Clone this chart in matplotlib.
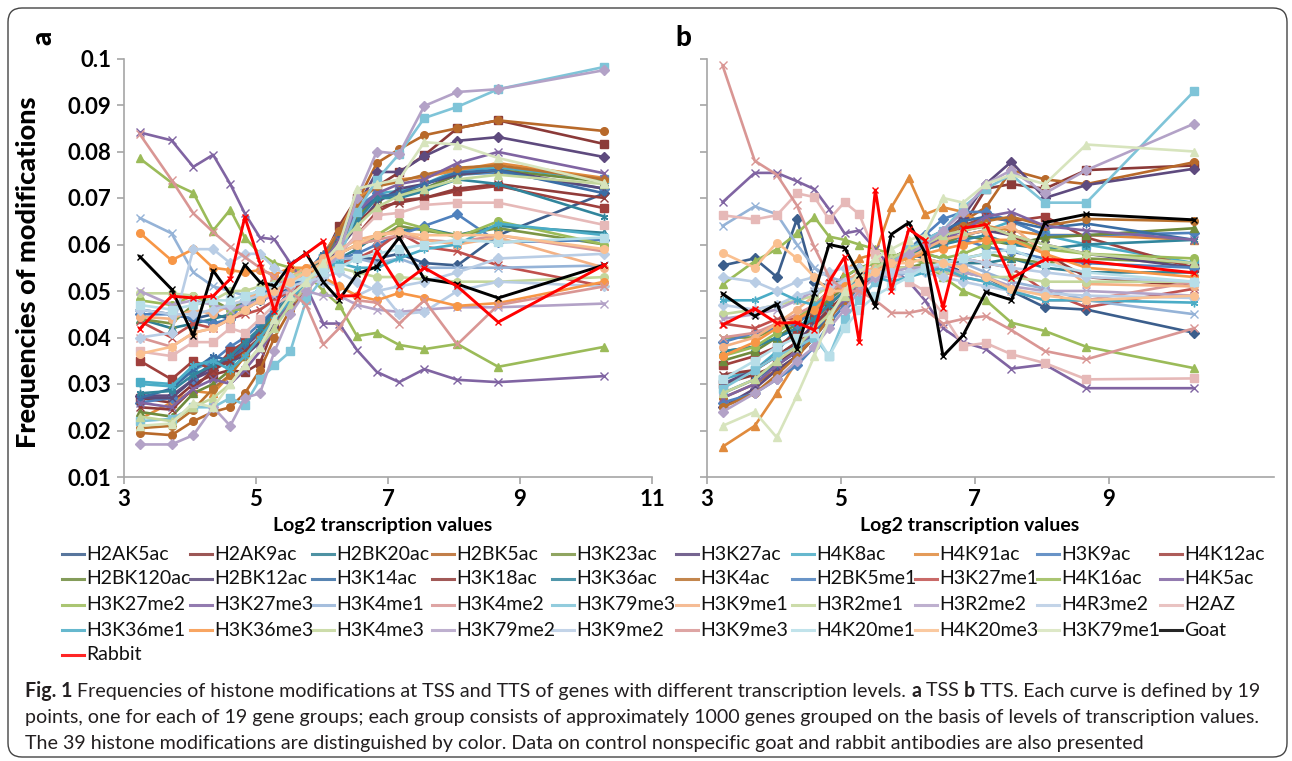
import numpy as np
import matplotlib
matplotlib.use("Agg")
import matplotlib.pyplot as plt
from matplotlib.lines import Line2D
from matplotlib.patches import FancyBboxPatch
import matplotlib.transforms as mtransforms

plt.rcParams['font.family'] = ['Lato', 'DejaVu Sans']

# x positions of the 19 gene groups (log2 transcription)
x_groups = [3.24, 3.72, 4.05, 4.35, 4.61, 4.83, 5.06, 5.28, 5.52, 5.76,
            6.02, 6.26, 6.53, 6.83, 7.17, 7.55, 8.05, 8.67, 10.28]

names = ["H2AK5ac", "H2AK9ac", "H2BK20ac", "H2BK5ac", "H3K23ac", "H3K27ac", "H4K8ac", "H4K91ac", "H3K9ac", "H4K12ac",
         "H2BK120ac", "H2BK12ac", "H3K14ac", "H3K18ac", "H3K36ac", "H3K4ac", "H2BK5me1", "H3K27me1", "H4K16ac", "H4K5ac",
         "H3K27me2", "H3K27me3", "H3K4me1", "H3K4me2", "H3K79me3", "H3K9me1", "H3R2me1", "H3R2me2", "H4R3me2", "H2AZ",
         "H3K36me1", "H3K36me3", "H3K4me3", "H3K79me2", "H3K9me2", "H3K9me3", "H4K20me1", "H4K20me3", "H3K79me1", "Goat",
         "Rabbit"]

# frequencies x 1000, TSS (panel a), same order as names
tss = [
    [46, 45, 44, 45, 44, 46, 48, 49, 51, 53, 55, 56, 57, 57, 58, 56, 55.5, 62, 71],
    [27, 26, 30, 32, 33, 32.5, 34.5, 42.5, 47, 51, 57, 64, 70, 72.5, 75.5, 79.2, 85, 86.7, 81.6],
    [44, 42, 43, 44, 45, 47, 49, 51, 53, 54, 56, 57, 59, 62, 63, 63.5, 62, 64, 62.5],
    [19.5, 19, 22, 24, 25, 28, 33, 40, 46, 50, 55, 62, 69, 77.5, 80.5, 83.5, 85, 86.7, 84.4],
    [44, 43, 47, 48, 46, 48, 50, 51, 52, 54, 56, 58, 60, 61, 64, 63, 62, 63.5, 60],
    [27.5, 27.5, 31, 33, 36, 38, 41, 45, 49, 53, 57, 62, 68, 75.6, 75.6, 79, 82.3, 83.1, 78.8],
    [30.5, 30, 33, 35, 34, 37, 40, 44, 48, 52, 57, 61, 66, 71, 71.5, 73, 76, 76.5, 74],
    [22.5, 26, 28.5, 28, 32, 36, 40, 44, 48, 53, 58, 63, 70, 72.5, 74, 74.5, 76, 77.5, 74.3],
    [26, 27, 31, 35, 38, 40, 43, 46, 50, 53, 57, 62, 68, 71, 70, 72, 75, 75.5, 72],
    [35, 31, 35, 33, 37, 39, 41, 44, 48, 51, 55, 58, 62, 67, 69.5, 70, 71.5, 72.6, 67.8],
    [24, 23, 28, 30, 33, 36, 40, 45, 49, 53, 57, 61, 66, 70, 71, 72, 75, 76, 73.5],
    [27, 27, 31, 34, 35, 36, 39, 43, 47, 51, 55, 59, 64, 69, 72, 73, 75, 76, 72],
    [27, 29, 33, 36, 35, 38, 42, 46, 50, 54, 58, 62, 67, 70, 71, 73, 75.5, 76, 71],
    [25, 24.5, 29, 33, 35, 37, 40, 44, 48, 52, 56, 60, 65, 68, 69, 70, 72, 73, 70],
    [28, 28.5, 32, 34, 36, 39, 42, 45, 49, 53, 57, 60, 65, 70, 70, 71.5, 74, 73, 66],
    [20.5, 21, 24.5, 29, 32, 36, 40, 44, 48, 52, 57, 63, 69, 72.5, 73.5, 75, 76.5, 77, 74],
    [45, 45, 44, 43, 44, 48, 50, 51, 53, 52, 55, 57, 58, 60, 62, 64, 66.5, 60.5, 61],
    [43.5, 40, 43, 42, 44, 45, 46, 48, 50, 52, 54, 56, 57, 59, 62.5, 59.5, 58.5, 55.5, 51],
    [48, 47, 49, 47, 46, 46, 48, 50, 52, 54, 56, 58, 60, 62, 65, 63.5, 61.5, 65, 60],
    [26, 25, 29, 31, 30, 33, 37, 42, 48, 52, 56, 61, 67, 71, 73, 74, 77.5, 79.9, 75.3],
    [78.5, 73.3, 71.1, 63, 67.5, 61.5, 58, 56, 55, 54, 50, 47, 40.3, 41, 38.4, 37.5, 38.6, 33.7, 38],
    [84.1, 82.4, 76.7, 79.3, 73, 66.7, 61.5, 61.1, 56, 51, 43, 43, 37.3, 32.6, 30.4, 33.2, 30.9, 30.4, 31.7],
    [65.7, 62.4, 54, 51, 50, 49, 50, 52, 52, 53, 55, 57, 57, 56, 57, 55, 55, 55, 55.5],
    [40, 38, 41, 42, 44, 46, 48, 50, 52, 54, 56, 58, 60, 61, 62, 61, 60.5, 62, 58.5],
    [22, 22.5, 25, 25, 27, 25.5, 31, 34, 37, 48, 53, 57, 67, 73.9, 79.5, 87.2, 89.6, 93.4, 98.2],
    [44.5, 44, 46, 45, 47, 48, 50, 52, 53, 55, 57, 59, 61, 62, 63, 61, 60, 61.5, 55],
    [49.5, 49.5, 49, 48, 50, 50, 51, 52, 53, 54, 55, 55, 54, 53, 53, 52.5, 52, 52, 53],
    [50, 47, 48, 47, 46, 47, 48, 49, 50, 50, 49, 49, 47, 46, 45.5, 46, 46.5, 46.5, 47.3],
    [46, 45, 45, 46, 47, 48, 49, 50, 51, 52, 52, 51, 49, 51, 45, 45.5, 50, 52, 51],
    [37, 36, 39, 39, 42, 41, 44, 47, 49, 51, 55, 58, 62, 66.3, 66.8, 68.5, 69, 69, 64.2],
    [30, 29.5, 34, 35, 33, 36, 40, 44, 48, 52, 55, 56, 55, 55, 57, 59, 60, 64.5, 62],
    [62.5, 56.6, 59, 55, 54.5, 54, 54.5, 53.5, 55, 55, 53, 51, 49, 48, 49.6, 48.5, 46.8, 47.4, 52],
    [23, 22, 25, 27, 30, 34, 38, 42, 47, 51, 56, 60, 64, 68, 70.5, 72, 74, 75, 73],
    [17, 17, 19, 25, 21, 27, 28, 37, 45, 50, 54, 58, 70, 80, 79.5, 89.8, 92.8, 93.4, 97.5],
    [40, 41, 59, 59, 56, 58, 58, 55, 53, 52, 53, 54, 52, 50, 51, 52, 54, 57, 58],
    [83.7, 73.9, 66.7, 62.7, 59.5, 57.3, 55, 53, 50, 47, 38.5, 42, 48, 47.5, 43, 48, 38.5, 47, 51],
    [47, 46, 47, 48, 48, 49, 50, 51, 52, 53, 54, 55, 57, 58, 59, 60, 61, 60.5, 61.5],
    [36.5, 38, 41, 42, 44, 46, 48, 50, 52, 54, 56, 58, 60, 62, 62.5, 62, 62, 62, 59],
    [21, 21.5, 26, 25, 30, 34, 38, 44, 49, 52, 56, 60, 72, 73, 74, 82, 81.5, 78.6, 73.2],
    [57.4, 50.4, 40.4, 54.4, 49.3, 55.6, 51.9, 51.1, 55.6, 58.1, 51.9, 48.1, 53.7, 55.2, 61.5, 52.6, 51.5, 48.5, 55.6],
    [41.9, 48.9, 48.5, 48.9, 52.6, 65.9, 56, 45.6, 55.6, 58, 60.7, 48.9, 49, 58.5, 51, 55, 51, 43.3, 55.6],
]

# frequencies x 1000, TTS (panel b)
tts = [
    [55.5, 57, 53, 65.5, 52, 51, 53, 55, 56, 57, 58, 57, 56, 54, 53, 50, 46.5, 46, 41],
    [30, 32, 34, 38, 42, 45, 48, 51, 53, 56, 58, 60, 62, 64, 72, 73, 72, 76, 77],
    [37, 38, 40, 42, 45, 48, 51, 53, 55, 56, 57, 58, 57, 56, 56, 57, 55, 54, 54],
    [27, 30, 33, 36, 40, 45, 49, 52, 55, 57, 59, 61, 62, 65, 68, 76, 74, 73, 77.7],
    [40, 40, 42, 44, 47, 50, 52, 53, 54, 55, 55, 56, 56, 57, 58, 57, 56, 57, 56],
    [25, 29, 33, 36, 40, 44, 48, 51, 54, 57, 58, 60, 62, 66, 73, 77.8, 70, 72.8, 76.3],
    [31, 33, 37, 42, 45, 47, 50, 53, 55, 57, 58, 59, 60, 62, 63, 65, 62, 60, 56],
    [16.5, 21, 28, 35, 42, 47, 54, 57, 58, 68, 74.3, 66.5, 68, 67, 64, 63, 62, 62, 61],
    [26, 28, 31, 34, 38, 43, 47, 51, 54, 57, 59, 62, 65.5, 67, 67, 65, 62, 62, 62.5],
    [34, 36, 38, 41, 44, 47, 50, 52, 54, 56, 58, 60, 62, 64, 66, 65, 66, 61.5, 55],
    [35, 37, 40, 43, 46, 48, 51, 53, 55, 57, 59, 61, 60, 62, 61, 60, 61.5, 62, 63.5],
    [30, 33, 36, 39, 43, 46, 49, 52, 54, 56, 58, 59, 61, 62, 63, 62, 60, 58, 55],
    [28, 31, 34, 37, 41, 45, 49, 52, 55, 57, 59, 61, 63, 65, 66, 65, 63.5, 64.5, 61],
    [32, 33, 36, 39, 42, 46, 49, 52, 54, 56, 58, 60, 62, 63, 64, 62, 58, 53, 51],
    [37, 38, 40, 42, 44, 47, 50, 53, 55, 57, 58, 59, 60, 61, 62, 60, 59, 60, 61],
    [25, 28, 32, 36, 40, 44, 48, 51, 54, 57, 59, 60, 62, 64, 65, 66, 64, 65.5, 65],
    [39, 41, 42, 43, 46, 49, 51, 53, 54, 56, 58, 60, 63, 61, 59.5, 58.5, 57, 56, 55],
    [43, 42, 44, 44, 46, 49, 51, 52, 53, 54, 54, 55, 56, 57, 56, 55, 50, 46.5, 50.5],
    [36, 38, 41, 44, 47, 50, 53, 55, 56, 57, 58, 58, 57, 58, 60, 61, 59, 58, 57],
    [27, 30, 34, 37, 42, 45, 48, 52, 54, 56, 58, 60, 61, 63, 66, 67, 64, 63, 61],
    [51.4, 56.4, 59, 62.4, 65.9, 61.7, 61, 60, 59, 58, 57, 56, 53, 50, 48, 43.2, 41.4, 38, 33.4],
    [69.1, 75.4, 75.4, 73.6, 71.9, 67.6, 62.4, 63, 59, 55, 52, 48, 42, 39, 37.5, 33.3, 34.2, 29.1, 29.1],
    [64, 68.2, 66.5, 60, 55, 53, 52, 52.5, 53, 53, 54, 55, 55, 56, 54, 52, 50.5, 48, 45],
    [40, 41, 43, 45, 47, 50, 52, 53, 54, 55, 55, 55, 54, 53, 52, 50, 48, 48, 52],
    [29, 33, 36, 38, 40, 36, 44, 48, 52, 56, 59, 61, 63, 68, 72, 75, 69, 69, 93],
    [38, 40, 43, 46, 49, 51, 52, 54, 55, 56, 57, 59, 61, 62, 63, 64, 58, 51.5, 51],
    [45, 46, 47, 48, 49, 51, 52, 53, 54, 55, 55, 55, 54, 54, 53, 53, 52, 52, 52],
    [44, 45, 46, 48, 50, 51, 52, 53, 53, 54, 55, 55, 55, 54, 53, 51, 50, 50, 49],
    [47, 46, 47, 49, 50, 51, 52, 53, 53, 54, 54, 54, 53, 52, 51, 50, 49.5, 49, 48.5],
    [66.3, 65.4, 66.3, 71, 70.2, 65.4, 69.1, 66.5, 58, 54, 52, 50, 45, 38.2, 38.8, 36.4, 34.5, 31, 31.2],
    [48, 48, 50, 48, 47, 49, 51, 52, 53, 52, 53, 54, 55, 53, 52, 50, 48, 48, 47.5],
    [36, 39, 42, 44, 46, 49, 51, 53, 54, 56, 57, 58, 59, 60, 61, 61, 58, 55, 53],
    [28, 31, 35, 38, 42, 45, 49, 52, 55, 57, 59, 60, 62, 63, 64, 62, 60, 58, 56],
    [24, 28, 31, 35, 38, 42, 46, 50, 53, 56, 58, 60, 63, 67, 73, 76, 71, 76, 86],
    [53, 52, 50, 52, 53, 54, 55, 55, 54, 54, 54, 55, 56, 57, 56, 55, 54, 53, 52],
    [98.5, 78, 75, 68.4, 59.4, 53, 50, 50, 48, 45.3, 45.3, 46, 43, 44, 44.6, 41.6, 37.1, 35.3, 42],
    [31, 35, 38, 40, 41, 36, 42, 46, 49, 51, 53, 55, 56, 57, 58, 59, 56, 54, 52],
    [58.2, 55, 60.4, 57, 53, 50, 50, 52, 54, 56, 56, 57, 56, 55, 53, 50.5, 49, 48, 49],
    [21, 24, 18.5, 27.5, 36, 44, 50, 54, 57, 59, 61, 62, 70, 69, 73, 75, 73, 81.5, 80],
    [49.4, 44.6, 47.2, 37.5, 49.5, 60, 59.3, 53.5, 46.8, 62.2, 64.7, 58.3, 36, 40.5, 49.8, 48.1, 64.7, 66.5, 65.3],
    [42.7, 46.2, 43.1, 43.2, 41.6, 52, 57.3, 39, 71.7, 50.1, 63.3, 60.9, 46.4, 63.5, 64.3, 52.7, 56.8, 56.4, 53.9],
]

y_ticks = [0.01, 0.02, 0.03, 0.04, 0.05, 0.06, 0.07, 0.08, 0.09, 0.1]
y_ticklabels = ["0.01", "0.02", "0.03", "0.04", "0.05", "0.06", "0.07", "0.08", "0.09", "0.1"]
x_ticks_a = [3, 5, 7, 9, 11]
x_ticks_b = [3, 5, 7, 9]

colors = ['#3B5E8C', '#8B3A38', '#2F7F93', '#B8692A', '#7D9645', '#5E4A7E', '#4BACC6', '#E08A3C', '#4F81BD', '#A0403D',
          '#6E8B3D', '#5B4A7A', '#3A6EA5', '#913C3A', '#31859C', '#B9712E', '#4F81BD', '#C0504D', '#9BBB59', '#8064A2',
          '#9BBB59', '#8064A2', '#95B3D7', '#D99694', '#7FC4D8', '#F4B183', '#C3D69B', '#B3A2C7', '#B9CDE5', '#E6B9B8',
          '#4BACC6', '#F79646', '#C3D69B', '#B3A2C7', '#B9CDE5', '#D99694', '#B7DEE8', '#FAC090', '#D7E4BD', '#000000',
          '#FF0000']
star = (6, 2, 0)
markers = ['D', 's', '^', 'o', 'x', 'D', 's', '^', 'D', 's',
           '^', 'x', star, 'x', star, 'o', 'D', 'x', 'o', 'x',
           '^', 'x', 'x', 'x', 's', 'o', 'o', 'x', 'D', 's',
           star, 'o', '^', 'D', 'D', 'x', 's', 'o', '^', 'x',
           'x']

W, H = 1292, 761
fig = plt.figure(figsize=(W / 100, H / 100), dpi=100)


def fx(px):
    return px / W


def fy(py):
    return 1 - py / H


ax_a = fig.add_axes([fx(124), fy(477), fx(652 - 124), (477 - 58.5) / H])
ax_b = fig.add_axes([fx(706.5), fy(477), fx(1274 - 706.5), (477 - 58.5) / H])

for ax, data in [(ax_a, tss), (ax_b, tts)]:
    for i, vals in enumerate(data):
        y = np.array(vals) / 1000.0
        lw = 2.1 if i >= 39 else 1.9
        ms = 4 if i >= 39 else 5.5
        ax.plot(x_groups, y, color=colors[i], lw=lw, marker=markers[i], ms=ms,
                mec=colors[i], mew=1.0, zorder=2 + (5 if i >= 39 else 0))
    ax.set_ylim(0.01, 0.1)
    ax.set_yticks(y_ticks)
    for s in ['top', 'right']:
        ax.spines[s].set_visible(False)
    for s in ['left', 'bottom']:
        ax.spines[s].set_color('#A6A6A6')
        ax.spines[s].set_linewidth(1.2)
    ax.tick_params(axis='both', direction='out', length=5, width=1.2, color='#A6A6A6',
                   labelsize=16, pad=4)
    for lab in ax.get_xticklabels() + ax.get_yticklabels():
        lab.set_fontweight('bold')

ax_a.set_xlim(3, 11)
ax_a.set_xticks(x_ticks_a)
ax_a.set_xticklabels([str(v) for v in x_ticks_a], fontweight='bold')
ax_a.set_yticklabels(y_ticklabels, fontweight='bold')
ax_a.set_ylabel("Frequencies of modifications", fontsize=19.5, fontweight='black')
ax_a.yaxis.set_label_coords(-0.16, 0.49)
ax_a.set_xlabel("Log2 transcription values", fontsize=14, fontweight='bold')
ax_a.xaxis.set_label_coords(0.489, -0.095)

ax_b.set_xlim(3, 11.47)
ax_b.set_xticks(x_ticks_b)
ax_b.set_xticklabels([str(v) for v in x_ticks_b], fontweight='bold')
ax_b.set_yticklabels([])
ax_b.set_xlabel("Log2 transcription values", fontsize=14, fontweight='bold')
ax_b.xaxis.set_label_coords(0.464, -0.095)

fig.text(fx(43), fy(38), "a", fontsize=20, fontweight='black', rotation=90, ha='center', va='center')
fig.text(fx(683), fy(38), "b", fontsize=20, fontweight='black', ha='center', va='center')

# legend laid out row by row, like the original
col_x = [62, 190, 312, 432, 552, 676, 792, 915, 1037, 1160]
row_y = [554, 579, 605, 630, 655]
for i, name in enumerate(names):
    r, c = divmod(i, 10)
    x0, y0 = col_x[c], row_y[r]
    fig.add_artist(Line2D([fx(x0), fx(x0 + 22)], [fy(y0), fy(y0)], color=colors[i],
                          lw=2.2, alpha=0.85, transform=fig.transFigure))
    fig.text(fx(x0 + 24), fy(y0), name, fontsize=14, ha='left', va='center', color='#111111')

# caption with bold pieces
cap_family = ['Lato', 'DejaVu Sans']
cap_size = 14.1
cap_lines = [
    [("Fig. 1", 'bold'), (" Frequencies of histone modifications at TSS and TTS of genes with different transcription levels. ", 'normal'),
     ("a", 'bold'), (" TSS ", 'normal'), ("b", 'bold'), (" TTS. Each curve is defined by 19", 'normal')],
    [("points, one for each of 19 gene groups; each group consists of approximately 1000 genes grouped on the basis of levels of transcription values.", 'normal')],
    [("The 39 histone modifications are distinguished by color. Data on control nonspecific goat and rabbit antibodies are also presented", 'normal')],
]
cap_y = [691, 718, 744]
for line, yy in zip(cap_lines, cap_y):
    prev = None
    for txt, wt in line:
        if prev is None:
            prev = fig.text(fx(25), fy(yy), txt, fontsize=cap_size, fontweight=wt,
                            family=cap_family, ha='left', va='center', color='#231F20')
        else:
            prev = fig.add_artist(plt.Annotation(txt, xy=(1, 0.5), xycoords=prev, ha='left', va='center',
                                                 fontsize=cap_size, fontweight=wt, family=cap_family,
                                                 color='#231F20'))

border = FancyBboxPatch((8, 4), 1279, 749, boxstyle="round,pad=0,rounding_size=14",
                        transform=mtransforms.IdentityTransform(), fill=False,
                        edgecolor='#444444', lw=1.0)
fig.add_artist(border)

fig.savefig("out.png", dpi=100)
